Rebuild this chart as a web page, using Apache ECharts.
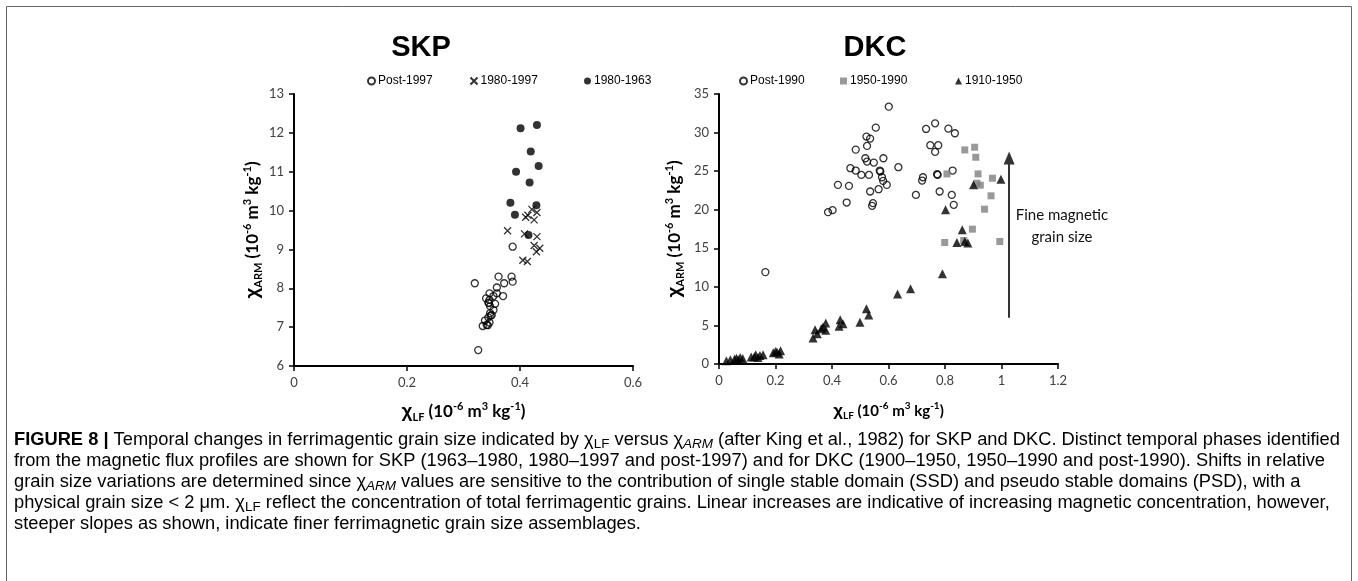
<!DOCTYPE html>
<html><head><meta charset="utf-8">
<script src="https://cdn.jsdelivr.net/npm/echarts@6/dist/echarts.min.js"></script>
<style>html,body{margin:0;padding:0;background:#fff}#c{width:1358px;height:581px}</style>
</head><body><div id="c"></div>
<script>
// ---------- DATA ----------
const skpPost1997 = [[0.387,9.07],[0.362,8.30],[0.385,8.30],[0.387,8.17],[0.320,8.13],[0.372,8.13],[0.359,8.02],[0.346,7.87],[0.359,7.87],[0.370,7.80],[0.353,7.80],[0.340,7.74],[0.346,7.70],[0.344,7.63],[0.356,7.60],[0.347,7.54],[0.345,7.62],[0.353,7.44],[0.347,7.36],[0.350,7.31],[0.348,7.30],[0.344,7.25],[0.338,7.17],[0.346,7.12],[0.341,7.06],[0.343,7.05],[0.334,7.03],[0.326,6.41]];
const skp1980_1997 = [[0.378,9.48],[0.410,9.83],[0.414,9.88],[0.421,10.03],[0.425,9.76],[0.430,9.95],[0.408,9.40],[0.430,9.33],[0.425,9.10],[0.429,8.94],[0.435,9.03],[0.405,8.72],[0.413,8.69]];
const skp1963_1980 = [[0.401,12.12],[0.430,12.20],[0.419,11.52],[0.393,11.00],[0.433,11.15],[0.417,10.72],[0.383,10.20],[0.429,10.14],[0.391,9.89],[0.415,9.37]];
const dkcPost1990 = [[0.601,33.36],[0.522,29.48],[0.535,29.22],[0.555,30.64],[0.484,27.79],[0.524,28.27],[0.518,26.67],[0.548,26.11],[0.524,26.24],[0.582,26.67],[0.465,25.38],[0.484,25.08],[0.504,24.51],[0.531,24.51],[0.569,25.08],[0.571,24.95],[0.577,24.21],[0.581,23.74],[0.594,23.22],[0.635,25.51],[0.421,23.22],[0.460,23.09],[0.535,22.36],[0.565,22.66],[0.452,20.93],[0.545,20.85],[0.542,20.50],[0.386,19.68],[0.402,19.94],[0.164,11.91],[0.733,30.47],[0.765,31.20],[0.812,30.51],[0.835,29.91],[0.748,28.36],[0.776,28.36],[0.765,27.49],[0.722,24.21],[0.719,23.78],[0.772,24.60],[0.774,24.51],[0.827,25.08],[0.697,21.92],[0.781,22.36],[0.824,21.92],[0.831,20.63]];
const dkc1950_1990 = [[0.870,27.75],[0.905,28.10],[0.909,26.80],[0.807,24.64],[0.917,24.64],[0.913,23.44],[0.925,23.18],[0.968,24.08],[0.963,21.80],[0.940,20.07],[0.897,17.48],[0.799,15.75],[0.866,16.01],[0.994,15.88]];
const dkc1910_1950 = [[0.026,0.43],[0.040,0.55],[0.055,0.65],[0.062,0.75],[0.068,0.55],[0.075,0.85],[0.084,0.72],[0.114,0.91],[0.125,0.95],[0.130,1.20],[0.138,0.85],[0.145,1.10],[0.156,1.21],[0.192,1.45],[0.200,1.62],[0.205,1.55],[0.213,1.30],[0.218,1.72],[0.333,3.37],[0.340,4.45],[0.348,3.93],[0.362,4.57],[0.368,4.79],[0.378,4.36],[0.378,5.31],[0.425,4.88],[0.429,5.74],[0.439,5.22],[0.499,5.40],[0.522,7.16],[0.530,6.34],[0.632,9.06],[0.678,9.75],[0.791,11.70],[0.802,19.98],[0.842,15.75],[0.861,17.39],[0.870,15.88],[0.881,15.67],[0.901,23.22],[0.998,23.95]];
const arrowDKC = [[1.027, 6.0], [1.027, 26.7]];
const skpXTicks = [0, 0.2, 0.4, 0.6];
const skpYTicks = [6, 7, 8, 9, 10, 11, 12, 13];
const dkcXTicks = [0, 0.2, 0.4, 0.6, 0.8, 1.0, 1.2];
const dkcYTicks = [0, 5, 10, 15, 20, 25, 30, 35];
const legendSKP = ['Post-1997', '1980-1997', '1980-1963'];
const legendDKC = ['Post-1990', '1950-1990', '1910-1950'];
const panelTitles = ['SKP', 'DKC'];
const annotationText = 'Fine magnetic\ngrain size';
const captionLines = [
  '{b|FIGURE 8 | }{n|Temporal changes in ferrimagentic grain size indicated by χ}{s|LF}{n| versus χ}{si|ARM}{n| (after }{g|King et al., 1982}{n|) for SKP and DKC. Distinct temporal phases identified}',
  '{n|from the magnetic flux profiles are shown for SKP (1963–1980, 1980–1997 and post-1997) and for DKC (1900–1950, 1950–1990 and post-1990). Shifts in relative}',
  '{n|grain size variations are determined since χ}{si|ARM}{n| values are sensitive to the contribution of single stable domain (SSD) and pseudo stable domains (PSD), with a}',
  '{n|physical grain size < 2 μm. χ}{s|LF}{n| reflect the concentration of total ferrimagentic grains. Linear increases are indicative of increasing magnetic concentration, however,}',
  '{n|steeper slopes as shown, indicate finer ferrimagnetic grain size assemblages.}'
];

// ---------- STYLE ----------
const TICKF = 'Lato, "Open Sans", sans-serif';
const ARIAL = '"Liberation Sans", Arial, sans-serif';
const yName = '{c|χ}{s|ARM}{n| (10}{p|-6}{n| m}{p|3}{n| kg}{p|-1}{n|)}';
const xName = '{c|χ}{s|LF}{n| (10}{p|-6}{n| m}{p|3}{n| kg}{p|-1}{n|)}';
function nameRich(fs) {
  const sub = Math.round(fs * 0.65);
  return {
    n: {fontSize: fs, fontWeight: 'bold', fontFamily: TICKF, color: '#000', lineHeight: fs + 5},
    c: {fontSize: fs + 2, fontWeight: 'bold', fontFamily: ARIAL, color: '#000', lineHeight: fs + 5},
    s: {fontSize: sub, fontWeight: 'bold', fontFamily: TICKF, color: '#000', lineHeight: sub, verticalAlign: 'bottom'},
    p: {fontSize: sub, fontWeight: 'bold', fontFamily: TICKF, color: '#000', lineHeight: sub, verticalAlign: 'top'}
  };
}
const fmt = v => String(Math.round(v * 10) / 10);
function axis(ticks, grid, name, nameGap, fs, isY) {
  return {
    type: 'value', gridIndex: grid,
    min: ticks[0], max: ticks[ticks.length - 1], interval: ticks[1] - ticks[0],
    name: name, nameLocation: 'middle', nameGap: nameGap, nameRotate: isY ? 90 : 0,
    nameTextStyle: {rich: nameRich(fs)},
    axisLine: {show: true, onZero: false, lineStyle: {color: '#000', width: 2}},
    axisTick: {show: true, length: 5, lineStyle: {color: '#000', width: 1.5}},
    axisLabel: {margin: 10, fontSize: 13, fontFamily: TICKF, color: '#404040', formatter: fmt},
    splitLine: {show: false}
  };
}
const openCircle = {color: 'rgba(255,255,255,0)', borderColor: '#000', borderWidth: 1.3};
const crossPath = 'path://M0,0L10,10M10,0L0,10';

const CF = 18.3;
const captionRich = {
  b: {fontSize: CF, fontWeight: 'bold', fontFamily: ARIAL, color: '#222', lineHeight: 22},
  n: {fontSize: CF, fontFamily: ARIAL, color: '#3a3a3a', lineHeight: 22},
  g: {fontSize: CF, fontFamily: ARIAL, color: '#8a8a8a', lineHeight: 22},
  s: {fontSize: 13.5, fontFamily: ARIAL, color: '#3a3a3a', lineHeight: 13, verticalAlign: 'bottom'},
  si: {fontSize: 13.5, fontFamily: ARIAL, fontStyle: 'italic', color: '#3a3a3a', lineHeight: 13, verticalAlign: 'bottom'}
};
const captionTop = 440, captionStep = 21;

const graphics = [
  {type: 'rect', silent: true, shape: {x: 6.5, y: 6.5, width: 1345, height: 600}, style: {fill: 'none', stroke: '#666', lineWidth: 1}},
  {type: 'text', silent: true, x: 421, y: 48, style: {text: panelTitles[0], font: 'bold 29px ' + ARIAL, fill: '#000', align: 'center', verticalAlign: 'middle'}},
  {type: 'text', silent: true, x: 875, y: 48, style: {text: panelTitles[1], font: 'bold 29px ' + ARIAL, fill: '#000', align: 'center', verticalAlign: 'middle'}},
  {type: 'text', silent: true, x: 1062, y: 226, style: {text: annotationText, font: '15px ' + TICKF, fill: '#111', align: 'center', verticalAlign: 'middle', lineHeight: 22}}
];
captionLines.forEach((t, i) => {
  graphics.push({type: 'text', silent: true, x: 14, y: captionTop + i * captionStep,
    style: {text: t, rich: captionRich, align: 'left', verticalAlign: 'middle'}});
});

// one legend component per item so each sits where the reference puts it
const legendLefts = [[367, 468, 584], [739, 840, 955]];
const legends = [];
[legendSKP, legendDKC].forEach((names, p) => names.forEach((nm, i) => legends.push({
  orient: 'horizontal', top: 75, left: legendLefts[p][i], itemWidth: 7, itemHeight: 7, padding: 0,
  selectedMode: false, data: [nm],
  textStyle: {fontSize: 12, fontFamily: ARIAL, color: '#000', padding: [0, 0, 0, -2]}
})));

const option = {
  animation: false,
  backgroundColor: '#fff',
  grid: [
    {left: 294, top: 94, width: 339, height: 272},
    {left: 719, top: 94, width: 339, height: 270}
  ],
  xAxis: [axis(skpXTicks, 0, xName, 35, 17, false), axis(dkcXTicks, 1, xName, 37, 15, false)],
  yAxis: [axis(skpYTicks, 0, yName, 30, 17, true), axis(dkcYTicks, 1, yName, 33, 17, true)],
  legend: legends,
  series: [
    {name: legendSKP[0], type: 'scatter', xAxisIndex: 0, yAxisIndex: 0, symbol: 'circle', symbolSize: 7, itemStyle: openCircle, data: skpPost1997},
    {name: legendSKP[1], type: 'scatter', xAxisIndex: 0, yAxisIndex: 0, symbol: crossPath, symbolSize: 7, itemStyle: {color: 'none', borderColor: '#000', borderWidth: 1.3}, data: skp1980_1997},
    {name: legendSKP[2], type: 'scatter', xAxisIndex: 0, yAxisIndex: 0, symbol: 'circle', symbolSize: 8, itemStyle: {color: '#000'}, data: skp1963_1980},
    {name: legendDKC[0], type: 'scatter', xAxisIndex: 1, yAxisIndex: 1, symbol: 'circle', symbolSize: 7, itemStyle: openCircle, data: dkcPost1990},
    {name: legendDKC[1], type: 'scatter', xAxisIndex: 1, yAxisIndex: 1, symbol: 'rect', symbolSize: 7, itemStyle: {color: '#7f7f7f'}, data: dkc1950_1990},
    {name: legendDKC[2], type: 'scatter', xAxisIndex: 1, yAxisIndex: 1, symbol: 'triangle', symbolSize: 9, itemStyle: {color: '#000'}, data: dkc1910_1950,
      markLine: {silent: true, symbol: ['none', 'triangle'], symbolSize: [11, 13], label: {show: false},
        lineStyle: {color: '#333', width: 2, type: 'solid'},
        data: [[{coord: arrowDKC[0]}, {coord: arrowDKC[1]}]]}}
  ],
  graphic: graphics
};
const chart = echarts.init(document.getElementById('c'), null, {renderer: 'canvas'});
chart.setOption(option);
</script>
</body></html>
